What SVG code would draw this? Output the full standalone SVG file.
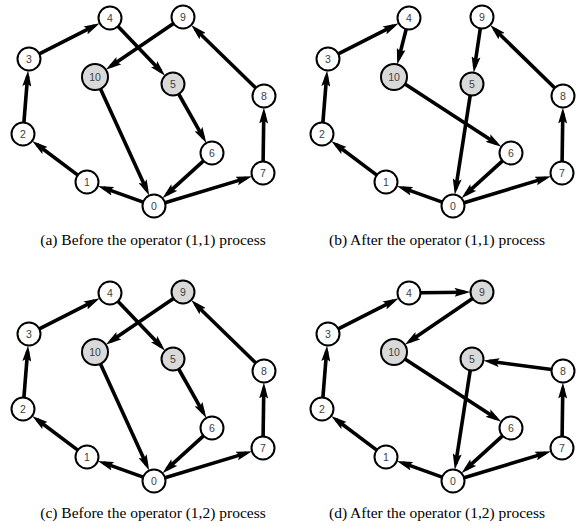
<svg xmlns="http://www.w3.org/2000/svg" width="580" height="526" viewBox="0 0 580 526">
<style>
.e{stroke:#000;stroke-width:3.6;fill:none;marker-end:url(#ah)}
.n circle{fill:#fff;stroke:#000;stroke-width:2}
.n.g circle{fill:#d9d9d9}
.n text{font-family:"Liberation Sans",Arial,sans-serif;font-size:10.5px;fill:#404040;text-anchor:middle;dominant-baseline:central}
.cap{font-family:"Liberation Serif","Times New Roman",serif;font-size:15.5px;fill:#000;text-anchor:middle}
</style>
<defs>
<marker id="ah" markerUnits="userSpaceOnUse" markerWidth="16" markerHeight="9" refX="10" refY="4.5" orient="auto" viewBox="0 0 16 9">
<path d="M0,0 L16,4.5 L0,9 L3,4.5 z" fill="#000"/>
</marker>
</defs>

<!-- Panel (a) -->
<g id="panel-a">
<g id="connectors-a">
<line class="e" x1="143.2" y1="202.1" x2="103.5" y2="187.9"/>
<line class="e" x1="77.8" y1="175.1" x2="37" y2="144.5"/>
<line class="e" x1="23.9" y1="122.5" x2="27.6" y2="76.4"/>
<line class="e" x1="39.3" y1="53.8" x2="94.4" y2="25.9"/>
<line class="e" x1="117.9" y1="26.3" x2="160.9" y2="71.3"/>
<line class="e" x1="178.7" y1="94" x2="203.4" y2="137.8"/>
<line class="e" x1="203.5" y1="160.8" x2="166.9" y2="194.2"/>
<line class="e" x1="165" y1="202.7" x2="246.3" y2="178.1"/>
<line class="e" x1="263.1" y1="161.5" x2="263.8" y2="113.5"/>
<line class="e" x1="255.8" y1="88" x2="195.5" y2="29.2"/>
<line class="e" x1="173.5" y1="23.5" x2="110.7" y2="66.3"/>
<line class="e" x1="100.4" y1="88.8" x2="146.7" y2="190.1"/>
</g>
<g id="a-n0" class="n"><circle cx="154" cy="206" r="11.5"/><text x="154" y="206">0</text></g>
<g id="a-n1" class="n"><circle cx="87" cy="182" r="11.5"/><text x="87" y="182">1</text></g>
<g id="a-n2" class="n"><circle cx="23" cy="134" r="11.5"/><text x="23" y="134">2</text></g>
<g id="a-n3" class="n"><circle cx="29" cy="59" r="11.5"/><text x="29" y="59">3</text></g>
<g id="a-n4" class="n"><circle cx="110" cy="18" r="11.5"/><text x="110" y="18">4</text></g>
<g id="a-n5" class="n g"><circle cx="173" cy="84" r="11.5"/><text x="173" y="84">5</text></g>
<g id="a-n6" class="n"><circle cx="212" cy="153" r="11.5"/><text x="212" y="153">6</text></g>
<g id="a-n7" class="n"><circle cx="263" cy="173" r="11.5"/><text x="263" y="173">7</text></g>
<g id="a-n8" class="n"><circle cx="264" cy="96" r="11.5"/><text x="264" y="96">8</text></g>
<g id="a-n9" class="n"><circle cx="183" cy="17" r="11.5"/><text x="183" y="17">9</text></g>
<g id="a-n10" class="n g"><circle cx="95" cy="77" r="13"/><text x="95" y="77">10</text></g>
<text class="cap" x="153" y="245">(a) Before the operator (1,1) process</text>
</g>

<!-- Panel (b) -->
<g id="panel-b" transform="translate(299,0)">
<g id="connectors-b">
<line class="e" x1="143.2" y1="202.1" x2="103.5" y2="187.9"/>
<line class="e" x1="77.8" y1="175.1" x2="37" y2="144.5"/>
<line class="e" x1="23.9" y1="122.5" x2="27.6" y2="76.4"/>
<line class="e" x1="39.3" y1="53.8" x2="94.4" y2="25.9"/>
<line class="e" x1="107.2" y1="29.1" x2="99.7" y2="58.6"/>
<line class="e" x1="105.9" y1="84.1" x2="197.3" y2="143.5"/>
<line class="e" x1="203.5" y1="160.8" x2="166.9" y2="194.2"/>
<line class="e" x1="165" y1="202.7" x2="246.3" y2="178.1"/>
<line class="e" x1="263.1" y1="161.5" x2="263.8" y2="113.5"/>
<line class="e" x1="255.8" y1="88" x2="195.5" y2="29.2"/>
<line class="e" x1="181.3" y1="28.4" x2="175.6" y2="66.7"/>
<line class="e" x1="171.2" y1="95.4" x2="156.7" y2="188.7"/>
</g>
<g id="b-n0" class="n"><circle cx="154" cy="206" r="11.5"/><text x="154" y="206">0</text></g>
<g id="b-n1" class="n"><circle cx="87" cy="182" r="11.5"/><text x="87" y="182">1</text></g>
<g id="b-n2" class="n"><circle cx="23" cy="134" r="11.5"/><text x="23" y="134">2</text></g>
<g id="b-n3" class="n"><circle cx="29" cy="59" r="11.5"/><text x="29" y="59">3</text></g>
<g id="b-n4" class="n"><circle cx="110" cy="18" r="11.5"/><text x="110" y="18">4</text></g>
<g id="b-n5" class="n g"><circle cx="173" cy="84" r="11.5"/><text x="173" y="84">5</text></g>
<g id="b-n6" class="n"><circle cx="212" cy="153" r="11.5"/><text x="212" y="153">6</text></g>
<g id="b-n7" class="n"><circle cx="263" cy="173" r="11.5"/><text x="263" y="173">7</text></g>
<g id="b-n8" class="n"><circle cx="264" cy="96" r="11.5"/><text x="264" y="96">8</text></g>
<g id="b-n9" class="n"><circle cx="183" cy="17" r="11.5"/><text x="183" y="17">9</text></g>
<g id="b-n10" class="n g"><circle cx="95" cy="77" r="13"/><text x="95" y="77">10</text></g>
<text class="cap" x="138" y="245">(b) After the operator (1,1) process</text>
</g>

<!-- Panel (c) -->
<g id="panel-c" transform="translate(0,275)">
<g id="connectors-c">
<line class="e" x1="143.2" y1="202.1" x2="103.5" y2="187.9"/>
<line class="e" x1="77.8" y1="175.1" x2="37" y2="144.5"/>
<line class="e" x1="23.9" y1="122.5" x2="27.6" y2="76.4"/>
<line class="e" x1="39.3" y1="53.8" x2="94.4" y2="25.9"/>
<line class="e" x1="117.9" y1="26.3" x2="160.9" y2="71.3"/>
<line class="e" x1="178.7" y1="94" x2="203.4" y2="137.8"/>
<line class="e" x1="203.5" y1="160.8" x2="166.9" y2="194.2"/>
<line class="e" x1="165" y1="202.7" x2="246.3" y2="178.1"/>
<line class="e" x1="263.1" y1="161.5" x2="263.8" y2="113.5"/>
<line class="e" x1="255.8" y1="88" x2="195.5" y2="29.2"/>
<line class="e" x1="173.5" y1="23.5" x2="110.7" y2="66.3"/>
<line class="e" x1="100.4" y1="88.8" x2="146.7" y2="190.1"/>
</g>
<g id="c-n0" class="n"><circle cx="154" cy="206" r="11.5"/><text x="154" y="206">0</text></g>
<g id="c-n1" class="n"><circle cx="87" cy="182" r="11.5"/><text x="87" y="182">1</text></g>
<g id="c-n2" class="n"><circle cx="23" cy="134" r="11.5"/><text x="23" y="134">2</text></g>
<g id="c-n3" class="n"><circle cx="29" cy="59" r="11.5"/><text x="29" y="59">3</text></g>
<g id="c-n4" class="n"><circle cx="110" cy="18" r="11.5"/><text x="110" y="18">4</text></g>
<g id="c-n5" class="n g"><circle cx="173" cy="84" r="11.5"/><text x="173" y="84">5</text></g>
<g id="c-n6" class="n"><circle cx="212" cy="153" r="11.5"/><text x="212" y="153">6</text></g>
<g id="c-n7" class="n"><circle cx="263" cy="173" r="11.5"/><text x="263" y="173">7</text></g>
<g id="c-n8" class="n"><circle cx="264" cy="96" r="11.5"/><text x="264" y="96">8</text></g>
<g id="c-n9" class="n g"><circle cx="183" cy="17" r="11.5"/><text x="183" y="17">9</text></g>
<g id="c-n10" class="n g"><circle cx="95" cy="77" r="13"/><text x="95" y="77">10</text></g>
<text class="cap" x="153" y="243">(c) Before the operator (1,2) process</text>
</g>

<!-- Panel (d) -->
<g id="panel-d" transform="translate(299,275)">
<g id="connectors-d">
<line class="e" x1="143.2" y1="202.1" x2="103.5" y2="187.9"/>
<line class="e" x1="77.8" y1="175.1" x2="37" y2="144.5"/>
<line class="e" x1="23.9" y1="122.5" x2="27.6" y2="76.4"/>
<line class="e" x1="39.3" y1="53.8" x2="94.4" y2="25.9"/>
<line class="e" x1="121.5" y1="17.8" x2="165.5" y2="17.2"/>
<line class="e" x1="173.5" y1="23.5" x2="110.7" y2="66.3"/>
<line class="e" x1="105.9" y1="84.1" x2="197.3" y2="143.5"/>
<line class="e" x1="203.5" y1="160.8" x2="166.9" y2="194.2"/>
<line class="e" x1="165" y1="202.7" x2="246.3" y2="178.1"/>
<line class="e" x1="263.1" y1="161.5" x2="263.8" y2="113.5"/>
<line class="e" x1="252.6" y1="94.5" x2="190.3" y2="86.3"/>
<line class="e" x1="171.2" y1="95.4" x2="156.7" y2="188.7"/>
</g>
<g id="d-n0" class="n"><circle cx="154" cy="206" r="11.5"/><text x="154" y="206">0</text></g>
<g id="d-n1" class="n"><circle cx="87" cy="182" r="11.5"/><text x="87" y="182">1</text></g>
<g id="d-n2" class="n"><circle cx="23" cy="134" r="11.5"/><text x="23" y="134">2</text></g>
<g id="d-n3" class="n"><circle cx="29" cy="59" r="11.5"/><text x="29" y="59">3</text></g>
<g id="d-n4" class="n"><circle cx="110" cy="18" r="11.5"/><text x="110" y="18">4</text></g>
<g id="d-n5" class="n g"><circle cx="173" cy="84" r="11.5"/><text x="173" y="84">5</text></g>
<g id="d-n6" class="n"><circle cx="212" cy="153" r="11.5"/><text x="212" y="153">6</text></g>
<g id="d-n7" class="n"><circle cx="263" cy="173" r="11.5"/><text x="263" y="173">7</text></g>
<g id="d-n8" class="n"><circle cx="264" cy="96" r="11.5"/><text x="264" y="96">8</text></g>
<g id="d-n9" class="n g"><circle cx="183" cy="17" r="11.5"/><text x="183" y="17">9</text></g>
<g id="d-n10" class="n g"><circle cx="95" cy="77" r="13"/><text x="95" y="77">10</text></g>
<text class="cap" x="138" y="243">(d) After the operator (1,2) process</text>
</g>
</svg>
